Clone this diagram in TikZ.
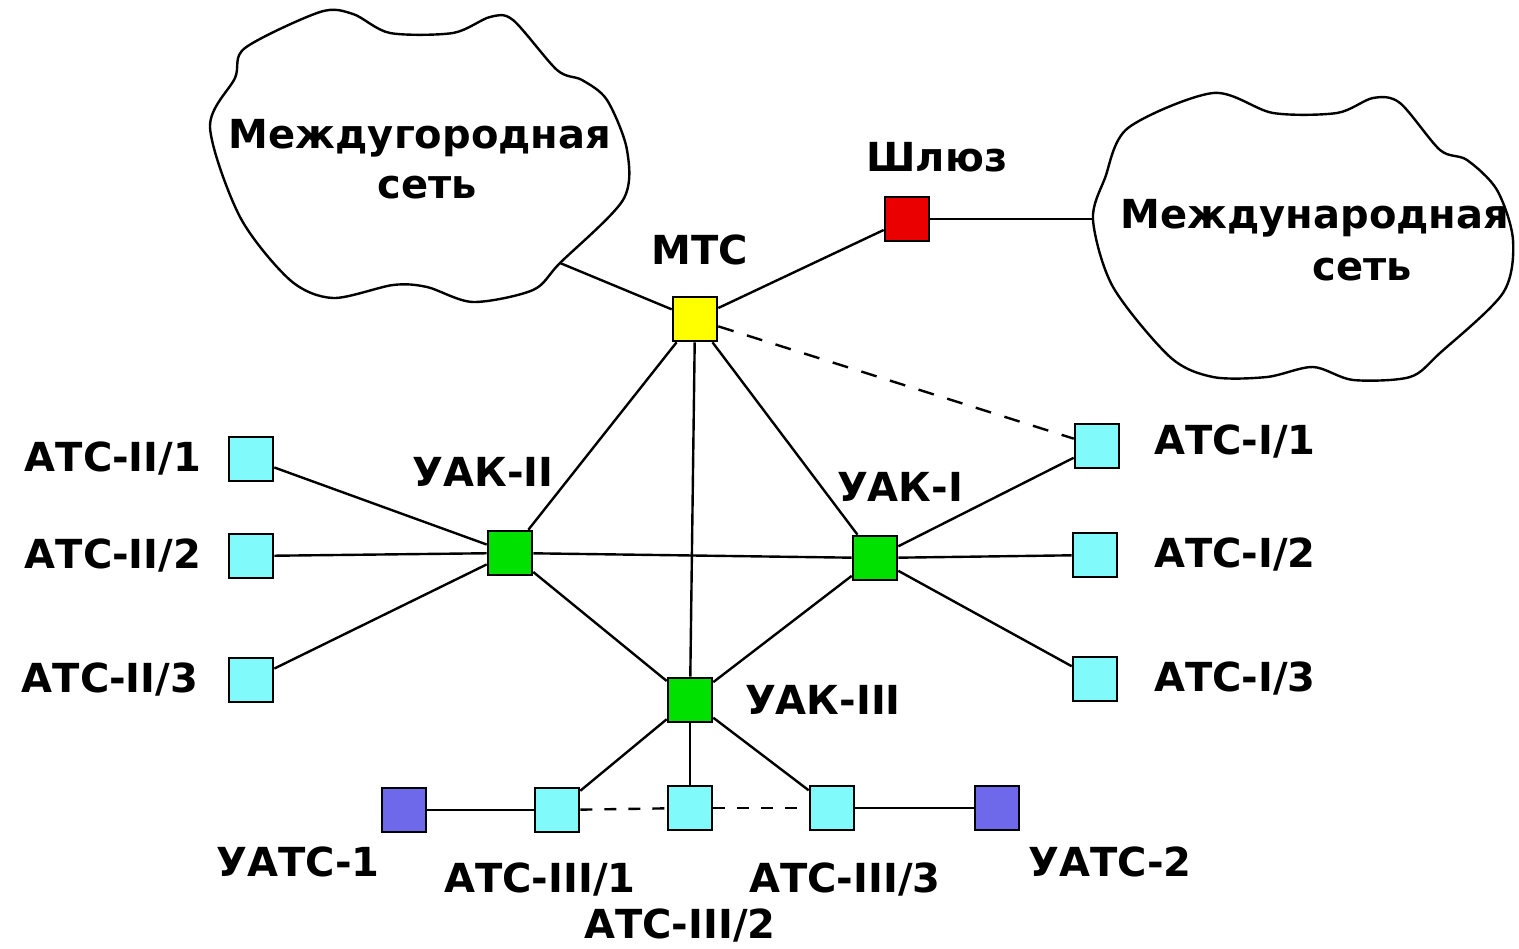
\documentclass[tikz,border=0pt]{standalone}
\usepackage{fontspec}
\setmainfont{DejaVu Sans}
\definecolor{cyanbox}{RGB}{128,250,250}
\definecolor{greenbox}{RGB}{0,225,0}
\definecolor{yellowbox}{RGB}{255,255,0}
\definecolor{redbox}{RGB}{235,0,0}
\definecolor{bluebox}{RGB}{110,105,235}
\tikzset{
  sq/.style={draw=black, line width=2.6pt, minimum size=44pt, inner sep=0pt},
  atc/.style={sq, fill=cyanbox},
  uak/.style={sq, fill=greenbox},
  lbl/.style={font=\fontsize{40}{44}\selectfont\bfseries, inner sep=0pt},
  link/.style={line width=2.4pt},
  dlink/.style={line width=2.4pt, dash pattern=on 16pt off 14pt},
  cloudline/.style={line width=2.4pt}
}
\begin{document}
\begin{tikzpicture}[x=1pt,y=-1pt]
\useasboundingbox (0,0) rectangle (1519,949);
% clouds
\draw[cloudline] plot[smooth cycle, tension=0.5] coordinates {
(245,48) (320,12) (353,14) (390,33) (453,33) (490,17) (513,20) (557,70) (582,80)
(607,100) (627,150) (623,200) (560,263) (533,290) (473,302) (427,287) (393,285)
(333,298) (290,280) (240,217) (210,127) (235,78)};
\draw[cloudline] plot[smooth cycle, tension=0.5] coordinates {
(1128,128) (1213,93) (1273,113) (1337,113) (1373,98) (1400,103) (1440,150) (1467,160)
(1497,190) (1513,240) (1503,293) (1440,353) (1410,377) (1353,380) (1313,367) (1267,377)
(1213,377) (1170,357) (1113,287) (1093,220) (1105,178)};
\coordinate (c1) at (560,263);
\coordinate (c2) at (1093,219);
\node[lbl] (t1a) at (420,138) {Междугородная};
\node[lbl] (t1b) at (427,188) {сеть};
\node[lbl] (t2a) at (1315,218) {Международная};
\node[lbl] (t2b) at (1362,270) {сеть};

% nodes
\node[sq, fill=yellowbox] (mtc) at (695,319) {};
\node[sq, fill=redbox] (gw) at (907,219) {};
\node[uak] (u2) at (510,553) {};
\node[uak] (u1) at (875,558) {};
\node[uak] (u3) at (690,700) {};
\node[atc] (a21) at (251,459) {};
\node[atc] (a22) at (251,556) {};
\node[atc] (a23) at (251,680) {};
\node[atc] (a11) at (1097,446) {};
\node[atc] (a12) at (1095,555) {};
\node[atc] (a13) at (1095,679) {};
\node[sq, fill=bluebox] (ua1) at (404,810) {};
\node[atc] (a31) at (557,810) {};
\node[atc] (a32) at (690,808) {};
\node[atc] (a33) at (832,808) {};
\node[sq, fill=bluebox] (ua2) at (997,808) {};

% labels
\node[lbl] (lgw) at (937,157) {Шлюз};
\node[lbl] (lmtc) at (700,250) {МТС};
\node[lbl] (lu2) at (483,472) {УАК-II};
\node[lbl] (lu1) at (900,487) {УАК-I};
\node[lbl] (lu3) at (823,700) {УАК-III};
\node[lbl] (la21) at (113,459) {АТС-II/1};
\node[lbl] (la22) at (113,556) {АТС-II/2};
\node[lbl] (la23) at (110,680) {АТС-II/3};
\node[lbl] (la11) at (1235,442) {АТС-I/1};
\node[lbl] (la12) at (1235,555) {АТС-I/2};
\node[lbl] (la13) at (1235,679) {АТС-I/3};
\node[lbl] (lua1) at (298,862) {УАТС-1};
\node[lbl] (la31) at (540,880) {АТС-III/1};
\node[lbl] (la32) at (680,926) {АТС-III/2};
\node[lbl] (la33) at (845,880) {АТС-III/3};
\node[lbl] (lua2) at (1110,862) {УАТС-2};

% connectors
\draw[link] (mtc) -- (c1);
\draw[link] (mtc) -- (gw);
\draw[link] (gw) -- (c2);
\draw[dlink] (mtc) -- (a11);
\draw[link] (mtc) -- (u2);
\draw[link] (mtc) -- (u1);
\draw[link] (mtc) -- (u3);
\draw[link] (u2) -- (u1);
\draw[link] (u2) -- (u3);
\draw[link] (u1) -- (u3);
\draw[link] (u2) -- (a21);
\draw[link] (u2) -- (a22);
\draw[link] (u2) -- (a23);
\draw[link] (u1) -- (a11);
\draw[link] (u1) -- (a12);
\draw[link] (u1) -- (a13);
\draw[link] (u3) -- (a31);
\draw[link] (u3) -- (a32);
\draw[link] (u3) -- (a33);
\draw[link] (ua1) -- (a31);
\draw[dlink, dash pattern=on 12pt off 12pt] (a31) -- (a32);
\draw[dlink, dash pattern=on 12pt off 12pt] (a32) -- (a33);
\draw[link] (a33) -- (ua2);
\end{tikzpicture}
\end{document}
